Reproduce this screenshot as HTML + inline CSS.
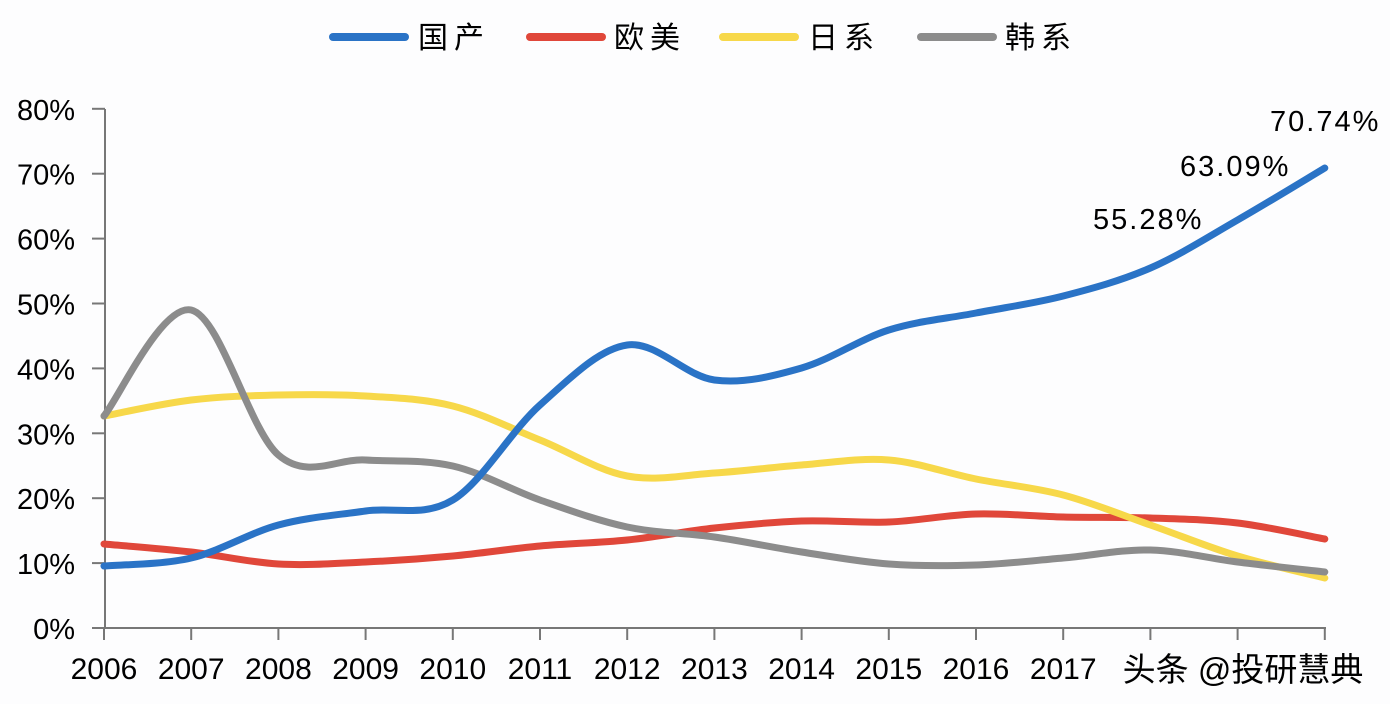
<!DOCTYPE html>
<html><head><meta charset="utf-8"><style>
html,body{margin:0;padding:0;background:#fff;}
svg{display:block;}
text{font-family:"Liberation Sans","Noto Sans CJK SC",sans-serif;fill:#000;}
</style></head><body>
<svg id="s" width="1390" height="704" viewBox="0 0 1390 704">
<rect width="1390" height="704" fill="#fdfdfe"/>
<g stroke="#777" stroke-width="2" fill="none">
<line x1="105" y1="109" x2="105" y2="628"/>
<line x1="105" y1="628" x2="1326" y2="628"/>
</g>
<g id="ticks" stroke="#777" stroke-width="2"></g>
<g id="ylab" font-size="29" text-anchor="end"></g>
<g id="xlab" font-size="30" text-anchor="middle"></g>
<g id="lines" fill="none" stroke-width="7" stroke-linecap="round"></g>
<g font-size="29" letter-spacing="2">
<text x="1270" y="131">70.74%</text>
<text x="1180" y="176">63.09%</text>
<text x="1093" y="229">55.28%</text>
</g>
<g font-size="30" letter-spacing="6">
<line x1="333" y1="37" x2="405" y2="37" stroke="#2a73c6" stroke-width="8" stroke-linecap="round"/>
<text x="418" y="48">国产</text>
<line x1="530" y1="37" x2="602" y2="37" stroke="#e0473a" stroke-width="8" stroke-linecap="round"/>
<text x="614" y="48">欧美</text>
<line x1="723" y1="37" x2="795" y2="37" stroke="#f7d84a" stroke-width="8" stroke-linecap="round"/>
<text x="808" y="48">日系</text>
<line x1="921" y1="37" x2="993" y2="37" stroke="#8c8c8c" stroke-width="8" stroke-linecap="round"/>
<text x="1005" y="48">韩系</text>
</g>
</svg>
<script>
var ns="http://www.w3.org/2000/svg";
function el(p,t,a,txt){var e=document.createElementNS(ns,t);for(var k in a)e.setAttribute(k,a[k]);if(txt)e.textContent=txt;document.getElementById(p).appendChild(e);}
for(var i=0;i<=8;i++){var y=628-i*64.9;el("ticks","line",{x1:92,y1:y,x2:105,y2:y});el("ylab","text",{x:75,y:y+11},i*10+"%");}
var X=[];for(var i=0;i<15;i++){X.push(104+i*87.2);el("ticks","line",{x1:X[i],y1:628,x2:X[i],y2:640});}
var yrs=["2006","2007","2008","2009","2010","2011","2012","2013","2014","2015","2016","2017"];
for(var i=0;i<12;i++)el("xlab","text",{x:X[i],y:679},yrs[i]);
el("xlab","text",{x:1243,y:681,"text-anchor":"middle","font-size":"33"},"头条 @投研慧典");
function path(Y){var P=Y.map(function(y,i){return[X[i],y]});var d="M"+P[0][0]+","+P[0][1];
for(var i=0;i<P.length-1;i++){var p0=P[i-1]||P[i],p1=P[i],p2=P[i+1],p3=P[i+2]||P[i+1];
d+=" C"+(p1[0]+(p2[0]-p0[0])/6)+","+(p1[1]+(p2[1]-p0[1])/6)+" "+(p2[0]-(p3[0]-p1[0])/6)+","+(p2[1]-(p3[1]-p1[1])/6)+" "+p2[0]+","+p2[1];}return d;}
var S=[
["#e0473a",[544,552,564,562,556,546,540,528,521,522,514,517,518,523,539]],
["#f7d84a",[416,400,395,396,406,440,476,473,465,460,479,495,525,556,578]],
["#8c8c8c",[416,310,455,460,466,500,527,537,552,564,565,558,550,562,572]],
["#2a73c6",[566,558,525,511,500,405,345,380,368,330,313,296,268,220,168]]];
S.forEach(function(s){el("lines","path",{d:path(s[1]),stroke:s[0]});});
</script>
</body></html>
